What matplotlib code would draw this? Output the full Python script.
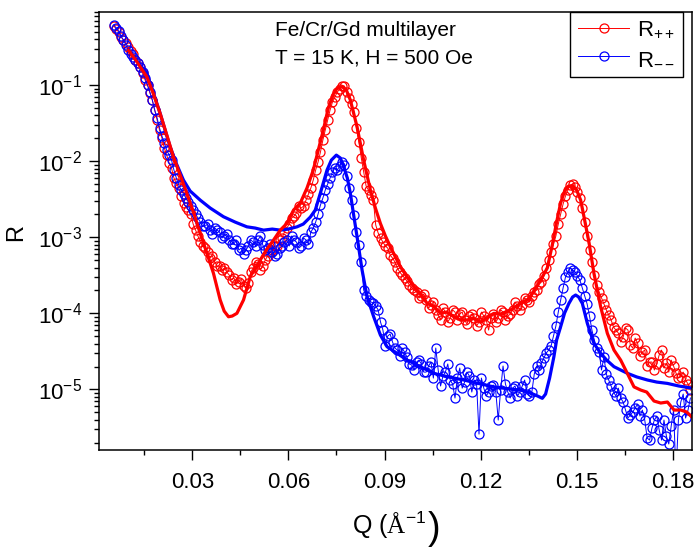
import matplotlib
matplotlib.use('Agg')
import matplotlib.pyplot as plt
from matplotlib.ticker import FixedLocator, LogLocator, NullFormatter, FormatStrFormatter

plt.rcParams['font.family'] = ['Liberation Sans', 'DejaVu Sans']
plt.rcParams['mathtext.fontset'] = 'custom'
plt.rcParams['mathtext.rm'] = 'Liberation Sans'
plt.rcParams['mathtext.it'] = 'Liberation Sans:italic'
plt.rcParams['mathtext.sf'] = 'Liberation Sans'
plt.rcParams['mathtext.tt'] = 'Liberation Serif'
plt.rcParams['axes.unicode_minus'] = False

# ---- measured data (Q in 1/A, R): main grid ----
q_data = [0.0055, 0.0070, 0.0085, 0.0100, 0.0115, 0.0130, 0.0145, 0.0160, 0.0175, 0.0190,
          0.0205, 0.0220, 0.0235, 0.0250, 0.0265, 0.0280, 0.0295, 0.0310, 0.0325, 0.0340,
          0.0355, 0.0370, 0.0385, 0.0400, 0.0415, 0.0430, 0.0445, 0.0460, 0.0475, 0.0490,
          0.0505, 0.0520, 0.0535, 0.0550, 0.0565, 0.0580, 0.0595, 0.0610, 0.0625, 0.0640,
          0.0655, 0.0670, 0.0685, 0.0700, 0.0715, 0.0730, 0.0745, 0.0760, 0.0775, 0.0790,
          0.0805, 0.0820, 0.0835, 0.0850, 0.0865, 0.0880, 0.0895, 0.0910, 0.0925, 0.0940,
          0.0955, 0.0970, 0.0985, 0.1000, 0.1015, 0.1030, 0.1045, 0.1060, 0.1075, 0.1090,
          0.1105, 0.1120, 0.1135, 0.1150, 0.1165, 0.1180, 0.1195, 0.1210, 0.1225, 0.1240,
          0.1255, 0.1270, 0.1285, 0.1300, 0.1315, 0.1330, 0.1345, 0.1360, 0.1375, 0.1390,
          0.1405, 0.1420, 0.1435, 0.1450, 0.1465, 0.1480, 0.1495, 0.1510, 0.1525, 0.1540,
          0.1555, 0.1570, 0.1585, 0.1600, 0.1615, 0.1630, 0.1645, 0.1660, 0.1675, 0.1690,
          0.1705, 0.1720, 0.1735, 0.1750, 0.1765, 0.1780, 0.1795, 0.1810, 0.1825, 0.1840,
          0.1855]

r_pp = [0.596, 0.497, 0.390, 0.316, 0.256, 0.195, 0.144, 0.100, 0.0635, 0.0347,
        0.0201, 0.0120, 0.00812, 0.00516, 0.00348, 0.00249, 0.00202, 0.00124, 8.65e-4, 7.21e-4,
        5.33e-4, 4.72e-4, 4.18e-4, 3.94e-4, 3.19e-4, 2.91e-4, 2.58e-4, 2.28e-4, 2.50e-4, 3.94e-4,
        4.44e-4, 4.18e-4, 5.66e-4, 6.79e-4, 7.66e-4, 9.76e-4, 1.32e-3, 1.79e-3, 2.08e-3, 2.42e-3,
        3.08e-3, 4.43e-3, 7.64e-3, 0.0132, 0.0256, 0.0469, 0.0695, 0.0886, 0.0970, 0.0675,
        0.0442, 0.0178, 7.19e-3, 4.17e-3, 3.08e-3, 1.14e-3, 8.65e-4, 7.21e-4, 5.33e-4, 3.94e-4,
        3.19e-4, 2.66e-4, 2.15e-4, 1.91e-4, 1.69e-4, 1.50e-4, 1.29e-4, 1.11e-4, 8.17e-5, 1.04e-4,
        8.68e-5, 1.04e-4, 9.79e-5, 8.17e-5, 9.21e-5, 8.68e-5, 7.69e-5, 9.21e-5, 6.03e-5, 9.79e-5,
        8.68e-5, 1.04e-4, 9.21e-5, 1.11e-4, 1.25e-4, 1.29e-4, 1.50e-4, 1.69e-4, 2.02e-4, 2.58e-4,
        3.94e-4, 6.39e-4, 1.04e-3, 2.02e-3, 3.48e-3, 4.85e-3, 4.57e-3, 3.27e-3, 1.58e-3, 6.79e-4,
        3.19e-4, 1.91e-4, 1.33e-4, 9.50e-5, 6.60e-5, 5.51e-5, 4.88e-5, 6.03e-5, 3.50e-5, 4.07e-5,
        3.10e-5, 2.03e-5, 2.29e-5, 2.16e-5, 3.29e-5, 2.22e-5, 2.43e-5, 1.64e-5, 1.46e-5, 1.33e-5,
        9.82e-6]

r_mm = [0.614, 0.512, 0.390, 0.288, 0.233, 0.195, 0.148, 0.100, 0.0635, 0.0369,
        0.0214, 0.0140, 0.0103, 0.00600, 0.00417, 0.00327, 0.00257, 0.00202, 0.00158, 0.00140,
        0.00124, 0.00132, 0.00117, 0.00104, 9.19e-4, 8.14e-4, 6.79e-4, 6.02e-4, 7.66e-4, 8.65e-4,
        9.19e-4, 7.90e-4, 7.21e-4, 6.39e-4, 6.02e-4, 7.66e-4, 9.19e-4, 1.04e-3, 8.65e-4, 7.66e-4,
        9.19e-4, 1.17e-3, 1.58e-3, 2.65e-3, 4.17e-3, 6.00e-3, 8.12e-3, 8.62e-3, 8.89e-3, 4.43e-3,
        1.96e-3, 7.90e-4, 2.02e-4, 1.50e-4, 1.37e-4, 1.11e-4, 6.03e-5, 5.03e-5, 4.20e-5, 3.29e-5,
        3.50e-5, 2.67e-5, 2.09e-5, 2.29e-5, 2.16e-5, 1.69e-5, 2.29e-5, 3.50e-5, 1.11e-5, 1.69e-5,
        1.33e-5, 7.71e-6, 1.91e-5, 1.25e-5, 1.50e-5, 1.33e-5, 2.59e-6, 1.04e-5, 9.24e-6, 1.14e-5,
        3.96e-6, 2.03e-5, 9.24e-6, 1.04e-5, 8.19e-6, 1.11e-5, 8.70e-6, 9.24e-6, 2.03e-5, 2.22e-5,
        3.01e-5, 3.72e-5, 6.81e-5, 1.50e-4, 3.00e-4, 3.94e-4, 3.49e-4, 2.74e-4, 1.69e-4, 9.21e-5,
        4.46e-5, 3.10e-5, 2.67e-5, 1.33e-5, 9.24e-6, 1.04e-5, 6.83e-6, 4.21e-6, 5.05e-6, 6.43e-6,
        5.36e-6, 2.30e-6, 3.11e-6, 4.47e-6, 2.16e-6, 2.44e-6, 3.30e-6, 7.5e-7, 6.83e-6, 4.21e-6,
        7.71e-6]

# ---- measured data: intermediate points ----
q_data_mid = [0.00625, 0.00775, 0.00925, 0.01075, 0.01225, 0.01375, 0.01525, 0.01675, 0.01825, 0.01975,
              0.02125, 0.02275, 0.02425, 0.02575, 0.02725, 0.02875, 0.03025, 0.03175, 0.03325, 0.03475,
              0.03625, 0.03775, 0.03925, 0.04075, 0.04225, 0.04375, 0.04525, 0.04675, 0.04825, 0.04975,
              0.05125, 0.05275, 0.05425, 0.05575, 0.05725, 0.05875, 0.06025, 0.06175, 0.06325, 0.06475,
              0.06625, 0.06775, 0.06925, 0.07075, 0.07225, 0.07375, 0.07525, 0.07675, 0.07825, 0.07975,
              0.08125, 0.08275, 0.08425, 0.08575, 0.08725, 0.08875, 0.09025, 0.09175, 0.09325, 0.09475,
              0.09625, 0.09775, 0.09925, 0.10075, 0.10225, 0.10375, 0.10525, 0.10675, 0.10825, 0.10975,
              0.11125, 0.11275, 0.11425, 0.11575, 0.11725, 0.11875, 0.12025, 0.12175, 0.12325, 0.12475,
              0.12625, 0.12775, 0.12925, 0.13075, 0.13225, 0.13375, 0.13525, 0.13675, 0.13825, 0.13975,
              0.14125, 0.14275, 0.14425, 0.14575, 0.14725, 0.14875, 0.15025, 0.15175, 0.15325, 0.15475,
              0.15625, 0.15775, 0.15925, 0.16075, 0.16225, 0.16375, 0.16525, 0.16675, 0.16825, 0.16975,
              0.17125, 0.17275, 0.17425, 0.17575, 0.17725, 0.17875, 0.18025, 0.18175, 0.18325, 0.18475]

r_pp_mid = [0.544, 0.427, 0.356, 0.280, 0.213, 0.172, 0.116, 0.0785, 0.0469, 0.0256,
            0.01486, 0.00944, 0.00600, 0.00443, 0.00281, 0.00228, 0.00149, 0.00104, 7.66e-4, 6.39e-4,
            5.66e-4, 4.18e-4, 3.71e-4, 3.49e-4, 2.74e-4, 2.43e-4, 2.82e-4, 2.15e-4, 3.49e-4, 4.72e-4,
            3.71e-4, 5.02e-4, 6.39e-4, 7.66e-4, 9.19e-4, 1.17e-3, 1.49e-3, 1.90e-3, 2.57e-3, 2.57e-3,
            3.70e-3, 5.64e-3, 9.73e-3, 0.0189, 0.0347, 0.0598, 0.0809, 0.0970, 0.0809, 0.0563,
            0.0272, 0.0110, 4.71e-3, 3.58e-3, 1.45e-3, 9.76e-4, 7.66e-4, 5.83e-4, 4.72e-4, 3.49e-4,
            2.91e-4, 2.35e-4, 2.02e-4, 1.59e-4, 1.79e-4, 1.17e-4, 1.41e-4, 9.50e-5, 1.17e-4, 7.69e-5,
            1.11e-4, 8.17e-5, 1.04e-4, 7.23e-5, 9.79e-5, 6.81e-5, 1.04e-4, 8.17e-5, 8.68e-5, 7.69e-5,
            1.11e-4, 8.17e-5, 9.79e-5, 1.41e-4, 1.11e-4, 1.59e-4, 1.41e-4, 1.91e-4, 2.43e-4, 3.09e-4,
            5.02e-4, 8.14e-4, 1.49e-3, 2.73e-3, 4.17e-3, 5.00e-3, 3.93e-3, 2.42e-3, 1.04e-3, 4.72e-4,
            2.35e-4, 1.59e-4, 1.11e-4, 8.17e-5, 6.03e-5, 4.20e-5, 6.41e-5, 3.83e-5, 4.73e-5, 2.75e-5,
            3.29e-5, 2.29e-5, 1.80e-5, 2.83e-5, 1.91e-5, 1.69e-5, 2.03e-5, 1.41e-5, 1.69e-5, 1.18e-5]

r_mm_mid = [0.561, 0.440, 0.336, 0.256, 0.213, 0.172, 0.124, 0.0809, 0.0469, 0.0272,
            0.0173, 0.0120, 7.64e-3, 4.85e-3, 3.70e-3, 2.90e-3, 2.28e-3, 1.79e-3, 1.40e-3, 1.49e-3,
            1.10e-3, 1.24e-3, 9.76e-4, 1.10e-3, 8.14e-4, 9.19e-4, 7.21e-4, 6.79e-4, 9.19e-4, 7.66e-4,
            1.04e-3, 6.79e-4, 8.14e-4, 5.66e-4, 7.21e-4, 8.65e-4, 7.66e-4, 9.19e-4, 7.21e-4, 9.76e-4,
            8.14e-4, 1.32e-3, 2.02e-3, 3.27e-3, 5.00e-3, 7.19e-3, 7.64e-3, 9.73e-3, 6.37e-3, 3.08e-3,
            1.17e-3, 4.72e-4, 1.69e-4, 1.41e-4, 1.25e-4, 7.69e-5, 3.72e-5, 5.35e-5, 3.50e-5, 2.75e-5,
            3.10e-5, 2.16e-5, 1.80e-5, 2.43e-5, 1.69e-5, 2.03e-5, 1.41e-5, 1.80e-5, 1.50e-5, 2.16e-5,
            1.18e-5, 1.41e-5, 1.04e-5, 1.69e-5, 9.24e-6, 1.18e-5, 1.41e-5, 8.19e-6, 1.11e-5, 9.24e-6,
            9.82e-6, 1.18e-5, 7.71e-6, 1.11e-5, 9.24e-6, 1.33e-5, 8.19e-6, 1.59e-5, 1.80e-5, 2.59e-5,
            3.29e-5, 5.03e-5, 1.04e-4, 2.15e-4, 3.49e-4, 3.71e-4, 3.09e-4, 2.15e-4, 1.33e-4, 6.03e-5,
            3.50e-5, 1.80e-5, 1.59e-5, 1.11e-5, 8.19e-6, 7.71e-6, 5.36e-6, 4.61e-6, 5.69e-6, 4.47e-6,
            3.96e-6, 2.16e-6, 3.96e-6, 2.93e-6, 3.96e-6, 1.92e-6, 5.36e-6, 3.96e-6, 8.70e-6, 5.36e-6]

# ---- model fits ----
q_fit_pp = [0.01003, 0.01275, 0.01578, 0.01775, 0.01994, 0.02203, 0.02409, 0.02619, 0.02828, 0.03035,
            0.03244, 0.03453, 0.03660, 0.03869, 0.03994, 0.04129, 0.04244, 0.04391, 0.04598, 0.04807,
            0.05120, 0.05307, 0.05535, 0.05745, 0.05954, 0.06161, 0.06370, 0.06579, 0.06776, 0.06933,
            0.07089, 0.07245, 0.07402, 0.07527, 0.07674, 0.07808, 0.07933, 0.08142, 0.08349, 0.08558,
            0.08715, 0.08871, 0.09027, 0.09183, 0.09340, 0.09496, 0.09684, 0.09912, 0.10121, 0.10331,
            0.10528, 0.10746, 0.10934, 0.11162, 0.11372, 0.11581, 0.11747, 0.11997, 0.12184, 0.12413,
            0.12622, 0.12935, 0.13247, 0.13466, 0.13654, 0.13872, 0.14082, 0.14238, 0.14373, 0.14498,
            0.14623, 0.14748, 0.14873, 0.14998, 0.15123, 0.15248, 0.15382, 0.15539, 0.15748, 0.15957,
            0.16164, 0.16373, 0.16561, 0.16789, 0.16998, 0.17186, 0.17414, 0.17624, 0.17833, 0.18040,
            0.18249, 0.18436, 0.18593]
r_fit_pp = [0.288, 0.2005, 0.1285, 0.0785, 0.0425, 0.0220, 0.01142, 0.00657, 0.00378, 0.00214,
            1.125e-3, 6.20e-4, 3.35e-4, 1.50e-4, 1.07e-4, 9.02e-5, 9.21e-5, 1.00e-4, 1.50e-4, 3.03e-4,
            5.02e-4, 6.79e-4, 9.19e-4, 1.24e-3, 1.52e-3, 2.28e-3, 2.81e-3, 4.43e-3, 7.64e-3, 0.0140,
            0.0256, 0.0499, 0.0762, 0.0913, 0.0950, 0.0860, 0.0635, 0.0283, 0.0103, 4.17e-3,
            2.42e-3, 1.52e-3, 1.04e-3, 7.50e-4, 5.49e-4, 4.10e-4, 3.09e-4, 2.24e-4, 1.79e-4, 1.35e-4,
            1.25e-4, 1.00e-4, 1.04e-4, 9.02e-5, 8.17e-5, 8.17e-5, 8.68e-5, 7.69e-5, 8.68e-5, 1.00e-4,
            9.79e-5, 1.11e-4, 1.35e-4, 1.50e-4, 1.91e-4, 2.74e-4, 3.94e-4, 7.90e-4, 1.58e-3, 2.81e-3,
            4.05e-3, 4.71e-3, 4.71e-3, 4.17e-3, 3.08e-3, 1.68e-3, 8.65e-4, 3.35e-4, 1.22e-4, 5.46e-5,
            3.29e-5, 2.43e-5, 1.69e-5, 1.08e-5, 9.82e-6, 9.24e-6, 7.04e-6, 6.63e-6, 6.83e-6, 5.36e-6,
            5.36e-6, 5.05e-6, 4.34e-6]

q_fit_mm = [0.01003, 0.01275, 0.01578, 0.01775, 0.01994, 0.02150, 0.02306, 0.02494, 0.02722, 0.02931,
            0.03244, 0.03557, 0.03972, 0.04338, 0.04704, 0.04963, 0.05223, 0.05495, 0.05745, 0.05995,
            0.06267, 0.06464, 0.06683, 0.06839, 0.06995, 0.07205, 0.07339, 0.07495, 0.07620, 0.07724,
            0.07839, 0.07933, 0.08027, 0.08142, 0.08299, 0.08455, 0.08662, 0.08871, 0.09080, 0.09393,
            0.09705, 0.10121, 0.10537, 0.10956, 0.11475, 0.11997, 0.12413, 0.12935, 0.13247, 0.13560,
            0.13779, 0.13926, 0.14029, 0.14154, 0.14288, 0.14373, 0.14498, 0.14623, 0.14757, 0.14873,
            0.14967, 0.15060, 0.15176, 0.15332, 0.15539, 0.15748, 0.15936, 0.16164, 0.16373, 0.16582,
            0.16873, 0.17208, 0.17499, 0.17833, 0.18186, 0.18593]
r_fit_mm = [0.288, 0.207, 0.1425, 0.0809, 0.0425, 0.0256, 0.01546, 0.00944, 0.00564, 4.05e-3,
            3.08e-3, 2.42e-3, 1.86e-3, 1.58e-3, 1.37e-3, 1.32e-3, 1.24e-3, 1.28e-3, 1.24e-3, 1.28e-3,
            1.37e-3, 1.49e-3, 1.84e-3, 2.28e-3, 3.78e-3, 7.64e-3, 0.0103, 0.0120, 0.0110, 8.44e-3,
            6.00e-3, 3.78e-3, 2.08e-3, 1.02e-3, 3.71e-4, 1.65e-4, 9.02e-5, 5.19e-5, 3.64e-5, 2.98e-5,
            2.43e-5, 1.99e-5, 1.63e-5, 1.47e-5, 1.33e-5, 1.18e-5, 1.08e-5, 1.01e-5, 9.82e-6, 8.97e-6,
            8.19e-6, 7.64e-6, 8.70e-6, 1.41e-5, 2.69e-5, 4.46e-5, 6.66e-5, 1.01e-4, 1.35e-4, 1.64e-4,
            1.74e-4, 1.64e-4, 1.35e-4, 7.39e-5, 4.03e-5, 2.98e-5, 2.43e-5, 1.99e-5, 1.80e-5, 1.63e-5,
            1.46e-5, 1.33e-5, 1.25e-5, 1.20e-5, 1.11e-5, 1.04e-5]

x_ticks = [0.03, 0.06, 0.09, 0.12, 0.15, 0.18]
x_minor = [0.015, 0.045, 0.075, 0.105, 0.135, 0.165]
label_pp = r'R$_{++}$'
label_mm = r'R$_{--}$'


def merged(q_a, r_a, q_b, r_b):
    pts = sorted(list(zip(q_a, r_a)) + list(zip(q_b, r_b)))
    return [p[0] for p in pts], [p[1] for p in pts]


q_pp_all, r_pp_all = merged(q_data, r_pp, q_data_mid, r_pp_mid)
q_mm_all, r_mm_all = merged(q_data, r_mm, q_data_mid, r_mm_mid)

W, H = 699, 551
fig = plt.figure(figsize=(W / 100, H / 100), dpi=100)
ax = fig.add_axes([98.5 / W, 101 / H, 593.5 / W, 438.3 / H])

red, blue = '#ff0000', '#0000ff'
mk = dict(marker='o', markersize=6.5, markerfacecolor='none', markeredgewidth=0.9, linewidth=0.7)
ax.plot(q_pp_all, r_pp_all, color=red, label=label_pp, **mk)
ax.plot(q_mm_all, r_mm_all, color=blue, label=label_mm, **mk)
ax.plot(q_fit_mm, r_fit_mm, color=blue, linewidth=2.3, solid_capstyle='round')
ax.plot(q_fit_pp, r_fit_pp, color=red, linewidth=2.3, solid_capstyle='round')

ax.set_yscale('log')
ax.set_xlim(0.0007, 0.186)
ax.set_ylim(1.6e-6, 0.92)

ax.xaxis.set_major_locator(FixedLocator(x_ticks))
ax.xaxis.set_minor_locator(FixedLocator(x_minor))
ax.xaxis.set_major_formatter(FormatStrFormatter('%.2f'))
ax.yaxis.set_major_locator(LogLocator(base=10, numticks=20))
ax.yaxis.set_minor_locator(LogLocator(base=10, subs=range(2, 10), numticks=20))
ax.yaxis.set_minor_formatter(NullFormatter())

ax.tick_params(which='major', direction='out', length=7, width=1.0, labelsize=16,
               top=False, right=False)
ax.tick_params(axis='x', which='major', pad=9)
ax.tick_params(axis='y', which='major', pad=5)
ax.tick_params(which='minor', direction='out', length=3.8, width=1.0, top=False, right=False)
for s in ax.spines.values():
    s.set_linewidth(1.1)

ax.set_ylabel('R', fontsize=17)
ax.yaxis.set_label_coords(-0.12, 0.497)
ax.set_xlabel(r'Q ($\mathtt{Å}^{\mathsf{-1}}$', fontsize=18)
ax.xaxis.set_label_coords(0.49, -0.135)

fig.text(275 / W, 1 - 30 / H, 'Fe/Cr/Gd multilayer', fontsize=15, ha='left', va='center')
fig.text(275 / W, 1 - 58 / H, 'T = 15 K, H = 500 Oe', fontsize=15, ha='left', va='center')

leg = ax.legend(loc='upper right', bbox_to_anchor=(0.985, 1.0), fontsize=16, frameon=True,
                fancybox=False, edgecolor='black', framealpha=1, handlelength=2.3,
                borderaxespad=0, borderpad=0.35, labelspacing=0.35, handletextpad=0.35)
leg.get_frame().set_linewidth(1.0)

# large closing parenthesis of the x label
fig.canvas.draw()
bb = ax.xaxis.label.get_window_extent()
fig.text((bb.x1 + 1) / W, (bb.y0 - 6) / H, ')', fontsize=27, ha='left', va='bottom')

fig.savefig('out.png', dpi=100)
